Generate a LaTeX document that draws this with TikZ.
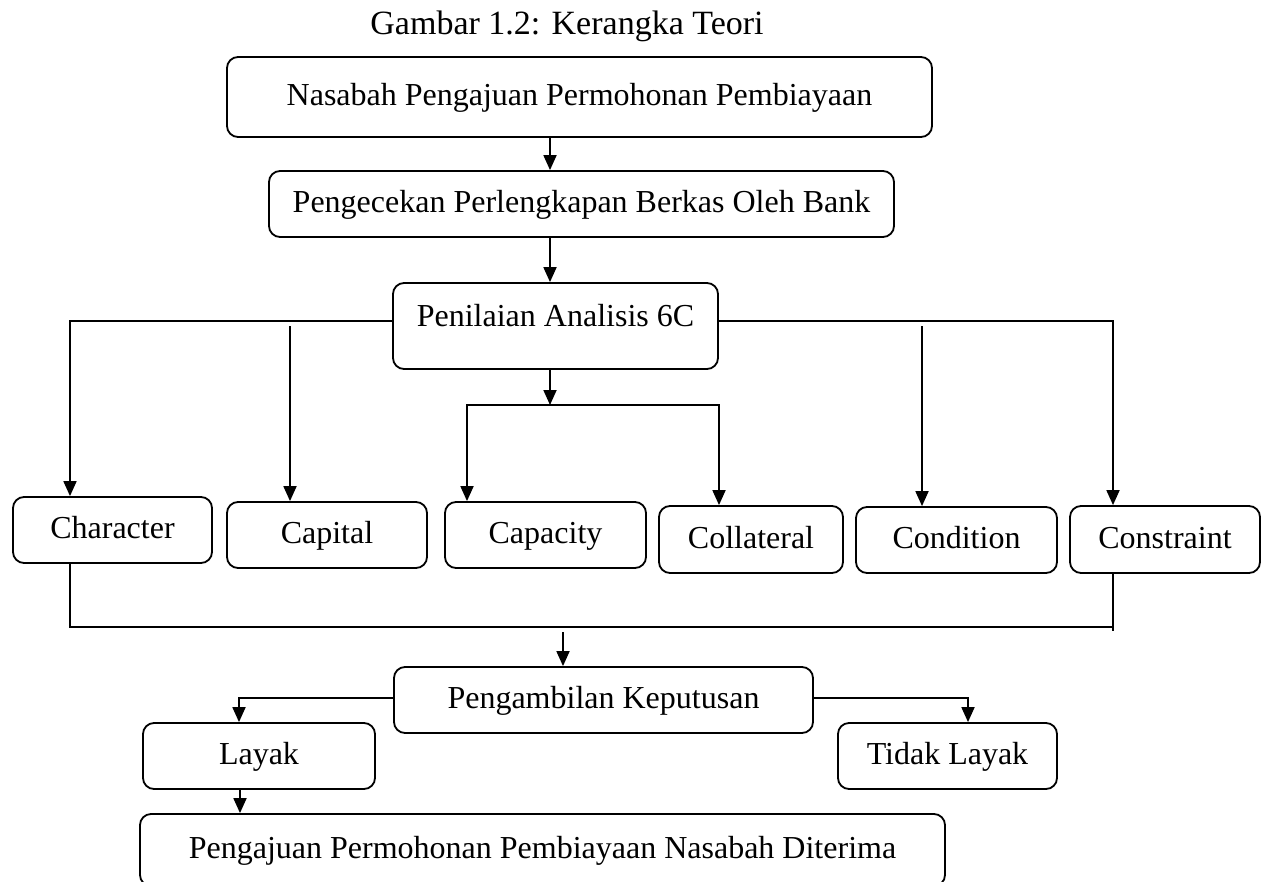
\documentclass[tikz,border=0pt]{standalone}
\usepackage{fontspec}
\setmainfont{Liberation Serif}
\usetikzlibrary{arrows.meta}
\begin{document}
\begin{tikzpicture}[x=1pt,y=-1pt,
  txt/.style={font=\fontsize{32}{38}\selectfont},
  box/.style={txt, draw, line width=1.8pt, rounded corners=11pt, inner sep=0pt,
    text height=23pt, text depth=6pt},
  link/.style={line width=1.8pt, line cap=rect},
  arr/.style={line width=1.8pt, -{Triangle[length=15pt,width=13pt]}},
]
\useasboundingbox (0,0) rectangle (1266,881);
\clip (0,0) rectangle (1266,881);

% caption
\node[font=\fontsize{34}{40}\selectfont, anchor=base] (title) at (567,34) {Gambar 1.2: Kerangka Teori};

% upper chain
\node[box, minimum width=705pt, minimum height=80pt] (nasabah) at (579.5,97) {Nasabah Pengajuan Permohonan Pembiayaan};
\node[box, minimum width=625pt, minimum height=66pt] (cek) at (581.5,204) {Pengecekan Perlengkapan Berkas Oleh Bank};
\node[box, minimum width=325pt, minimum height=86pt, text height=22pt, text depth=22pt] (nilai) at (555.5,326) {Penilaian Analisis 6C};

% the six criteria
\node[box, minimum width=199pt, minimum height=66pt] (character) at (112.5,530) {Character};
\node[box, minimum width=200pt, minimum height=66pt] (capital) at (327,535) {Capital};
\node[box, minimum width=201pt, minimum height=66pt] (capacity) at (545.5,535) {Capacity};
\node[box, minimum width=184pt, minimum height=67pt] (collateral) at (751,539.5) {Collateral};
\node[box, minimum width=201pt, minimum height=66pt] (condition) at (956.5,540) {Condition};
\node[box, minimum width=190pt, minimum height=67pt] (constraint) at (1165,539.5) {Constraint};

% decision and outcomes
\node[box, minimum width=419pt, minimum height=66pt] (decision) at (603.5,700) {Pengambilan Keputusan};
\node[box, minimum width=232pt, minimum height=66pt] (layak) at (259,756) {Layak};
\node[box, minimum width=219pt, minimum height=66pt] (tidak) at (947.5,756) {Tidak Layak};
\node[box, minimum width=805pt, minimum height=72pt] (final) at (542.5,850) {Pengajuan Permohonan Pembiayaan Nasabah Diterima};

% helper columns and rows
\coordinate (xm) at (550,0);
\coordinate (xc) at (70,0);
\coordinate (xk) at (1113,0);
\coordinate (xp) at (467,0);
\coordinate (xl) at (719,0);
\coordinate (xf) at (240,0);
\coordinate (yb) at (0,321);
\coordinate (ys) at (0,405);
\coordinate (yc) at (0,627);
\coordinate (yd) at (0,698);
\coordinate (xly) at (239,0);
\coordinate (xty) at (968,0);
\coordinate (capstart) at (290,326);
\coordinate (constart) at (922,326);
\coordinate (colstart) at (563,632);
\coordinate (kend) at (1113,630);

% upper chain arrows
\draw[arr] (nasabah.south -| xm) -- (cek.north -| xm);
\draw[arr] (cek.south -| xm) -- (nilai.north -| xm);

% branches from the 6C assessment
\draw[arr] (nilai.west |- yb) -- (xc |- yb) -- (xc |- character.north);
\draw[arr] (nilai.east |- yb) -- (xk |- yb) -- (xk |- constraint.north);
\draw[arr] (capstart) -- (capstart |- capital.north);
\draw[arr] (constart) -- (constart |- condition.north);
\draw[arr] (nilai.south -| xm) -- (xm |- ys);
\draw[link] (xp |- ys) -- (xl |- ys);
\draw[arr] (xp |- ys) -- (xp |- capacity.north);
\draw[arr] (xl |- ys) -- (xl |- collateral.north);

% collector into the decision
\draw[link] (xc |- character.south) -- (xc |- yc) -- (xk |- yc);
\draw[link] (xk |- constraint.south) -- (kend);
\draw[arr] (colstart) -- (colstart |- decision.north);

% outcomes
\draw[arr] (decision.west |- yd) -- (xly |- yd) -- (xly |- layak.north);
\draw[arr] (decision.east |- yd) -- (xty |- yd) -- (xty |- tidak.north);
\draw[arr] (layak.south -| xf) -- (xf |- final.north);
\end{tikzpicture}
\end{document}
